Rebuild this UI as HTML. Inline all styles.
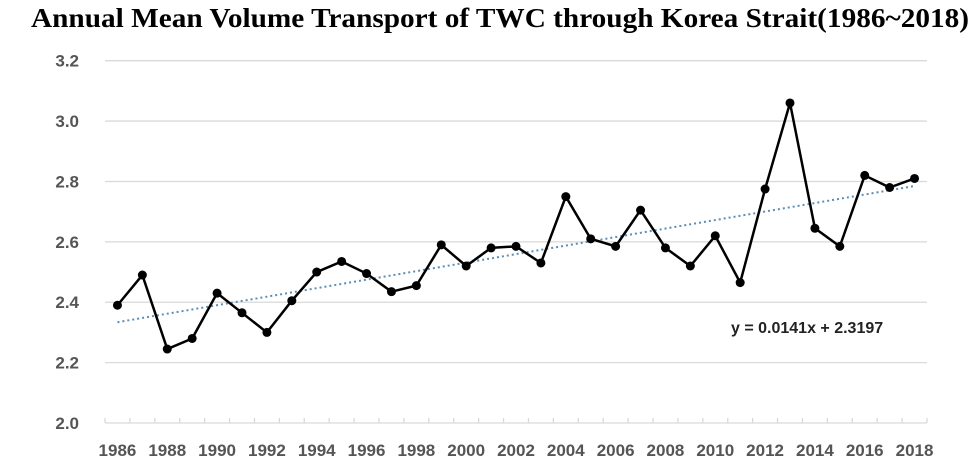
<!DOCTYPE html>
<html><head><meta charset="utf-8"><style>
body{margin:0;background:#fff;}
svg text{font-family:"Liberation Sans",sans-serif;}
</style></head><body>
<svg id="chart" width="978" height="463" xmlns="http://www.w3.org/2000/svg">
<text x="31" y="27" textLength="938" lengthAdjust="spacingAndGlyphs" style="font-family:'Liberation Serif',serif" font-weight="bold" font-size="27" fill="#000">Annual Mean Volume Transport of TWC through Korea Strait(1986~2018)</text>
<g id="grid"></g><g id="ticks"></g><g id="trend"></g><g id="series"></g>
<text x="731" y="333" font-size="16" font-weight="bold" fill="#222">y = 0.0141x + 2.3197</text>
</svg>
<script>
const years=[1986,1987,1988,1989,1990,1991,1992,1993,1994,1995,1996,1997,1998,1999,2000,2001,2002,2003,2004,2005,2006,2007,2008,2009,2010,2011,2012,2013,2014,2015,2016,2017,2018];
const values=[2.39,2.49,2.245,2.28,2.43,2.365,2.30,2.405,2.50,2.535,2.495,2.435,2.455,2.59,2.52,2.58,2.585,2.53,2.75,2.61,2.585,2.705,2.58,2.52,2.62,2.465,2.775,3.06,2.645,2.585,2.82,2.78,2.81];
const yTicks=[2.0,2.2,2.4,2.6,2.8,3.0,3.2];
const trendSlope=0.0141, trendIntercept=2.3197;
const NS="http://www.w3.org/2000/svg";
const L=105,R=927,T=60.7,B=423,ymin=2.0,ymax=3.2;
const bw=(R-L)/years.length;
const X=i=>L+bw*(i+0.5);
const Y=v=>B-(v-ymin)/(ymax-ymin)*(B-T);
function mk(tag,attrs,parent){const e=document.createElementNS(NS,tag);for(const k in attrs)e.setAttribute(k,attrs[k]);document.getElementById(parent).appendChild(e);return e;}
yTicks.forEach(t=>{
 const ln=mk('line',{x1:L,x2:R,y1:Y(t),y2:Y(t),stroke:'#d9d9d9','stroke-width':1.3},'grid');
 
 
 const tx=mk('text',{x:79,y:Y(t)+6,'text-anchor':'end','font-size':17,'font-weight':'bold',fill:'#555'},'grid');
 tx.textContent=t.toFixed(1);
 
 
});
for(let i=0;i<=years.length;i++){
 const tk=mk('line',{x1:L+bw*i,x2:L+bw*i,y1:B,y2:B-5,stroke:'#d9d9d9','stroke-width':1.3},'ticks');
 
 
}
years.forEach((yr,i)=>{if(i%2==0){
 const tx=mk('text',{x:X(i),y:456,'text-anchor':'middle','font-size':17,'font-weight':'bold',fill:'#555'},'ticks');
 tx.textContent=yr;
 
 
}});
const tl=mk('line',{x1:X(0),y1:Y(trendIntercept+trendSlope*1),x2:X(years.length-1),y2:Y(trendIntercept+trendSlope*years.length),stroke:'#5b8db5','stroke-width':2,'stroke-dasharray':'2 3'},'trend');


const pl=mk('polyline',{points:values.map((v,i)=>X(i)+','+Y(v)).join(' '),fill:'none',stroke:'#000','stroke-width':2.5},'series');


values.forEach((v,i)=>{
 const c=mk('circle',{cx:X(i),cy:Y(v),r:4.5,fill:'#000'},'series');
 
 
});
</script>
</body></html>
